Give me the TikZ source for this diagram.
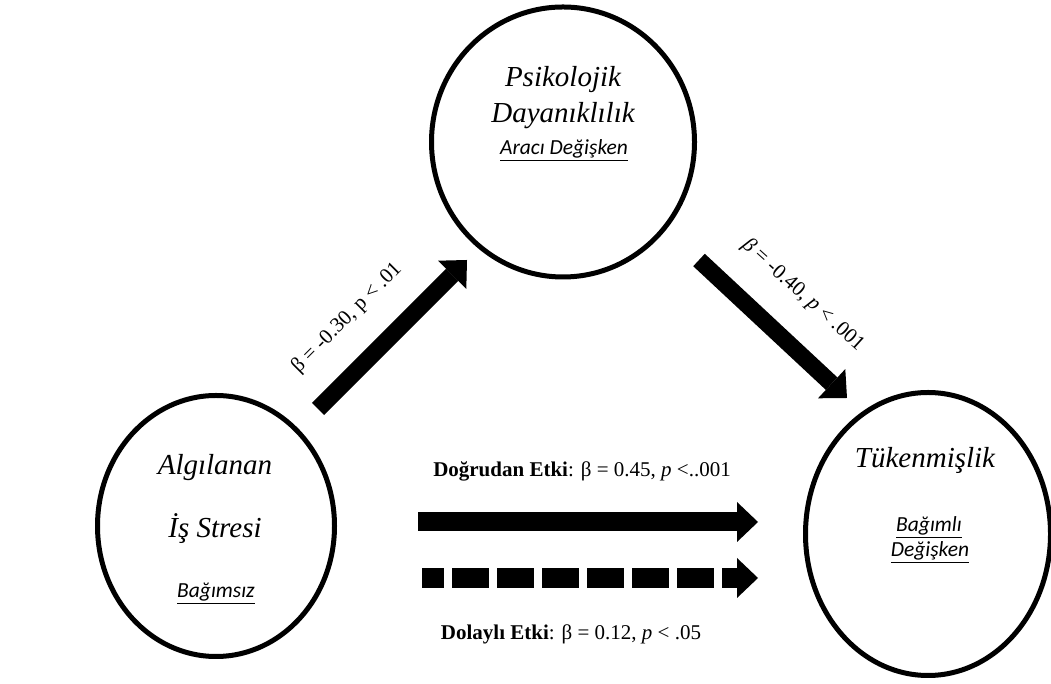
\documentclass[tikz,border=0pt]{standalone}
\usepackage{fontspec}
\setmainfont{Liberation Serif}
\newfontfamily\calibri{Carlito}
\usepackage{tikz}
\usetikzlibrary{shapes.geometric, arrows.meta, positioning, calc}
\tikzstyle{varnode} = [ellipse, draw=black, line width=5pt, inner sep=0pt]
\tikzstyle{vartext} = [anchor=base, font=\fontsize{29}{35}\selectfont\itshape]
\tikzstyle{roletext} = [anchor=base, font=\fontsize{21.5}{26}\selectfont\calibri\itshape]
\tikzstyle{coef} = [font=\fontsize{21}{25}\selectfont]
\tikzstyle{bigarrow} = [line width=17pt, -{Triangle[length=21pt, width=40pt, line width=0pt]}]

\begin{document}
\begin{tikzpicture}[x=1pt, y=1pt]
      \useasboundingbox (0,0) rectangle (1051,684);

      % Variables
      \node[varnode, minimum width=263pt, minimum height=270pt] (dayan) at (563,542) {};
      \node[varnode, minimum width=237pt, minimum height=261pt] (stres) at (216,158) {};
      \node[varnode, minimum width=245pt, minimum height=283pt] (tuken) at (928,150) {};

      % Texts in the variables
      \node[vartext] (dayan1) at (563,597) {Psikolojik};
      \node[vartext] (dayan2) at (563,561) {Dayanıklılık};
      \node[roletext] (dayan3) at (564,529) {\underline{Aracı Değişken}};
      \node[vartext] (stres1) at (215,209) {Algılanan};
      \node[vartext] (stres2) at (215,146) {İş Stresi};
      \node[roletext] (stres3) at (216,86) {\underline{Bağımsız}};
      \node[vartext] (tuken1) at (925,216) {Tükenmişlik};
      \node[roletext] (tuken2) at (929,152) {\underline{Bağımlı}};
      \node[roletext] (tuken3) at (930,127) {\underline{Değişken}};

      % Arrows
      \coordinate (a1s) at (318,275);
      \coordinate (a1e) at (467,424);
      \coordinate (a2s) at (699,424);
      \coordinate (a2e) at (847,286);
      \coordinate (a3s) at (418,162);
      \coordinate (a3e) at (758,162);
      \coordinate (a4s) at (422,106);
      \coordinate (a4e) at (758,106);
      \draw[bigarrow] (a1s) -- (a1e);
      \draw[bigarrow] (a2s) -- (a2e);
      \draw[bigarrow, line width=19pt] (a3s) -- (a3e);
      \draw[bigarrow, line width=20pt, dash pattern=on 37pt off 8pt, dash phase=15pt] (a4s) -- (a4e);

      % Coefficients
      \node[coef, rotate=45] (b1) at (347,366) {β = -0.30, p < .01};
      \node[coef, rotate=-42] (b2) at (803,389) {\textit{β} = -0.40, \textit{p} < .001};
      \node[coef, anchor=base] (direct) at (582,207) {\textbf{Doğrudan Etki}: β = 0.45, \textit{p} <..001};
      \node[coef, anchor=base] (indirect) at (571,44) {\textbf{Dolaylı Etki}: β = 0.12, \textit{p} < .05};
\end{tikzpicture}
\end{document}
